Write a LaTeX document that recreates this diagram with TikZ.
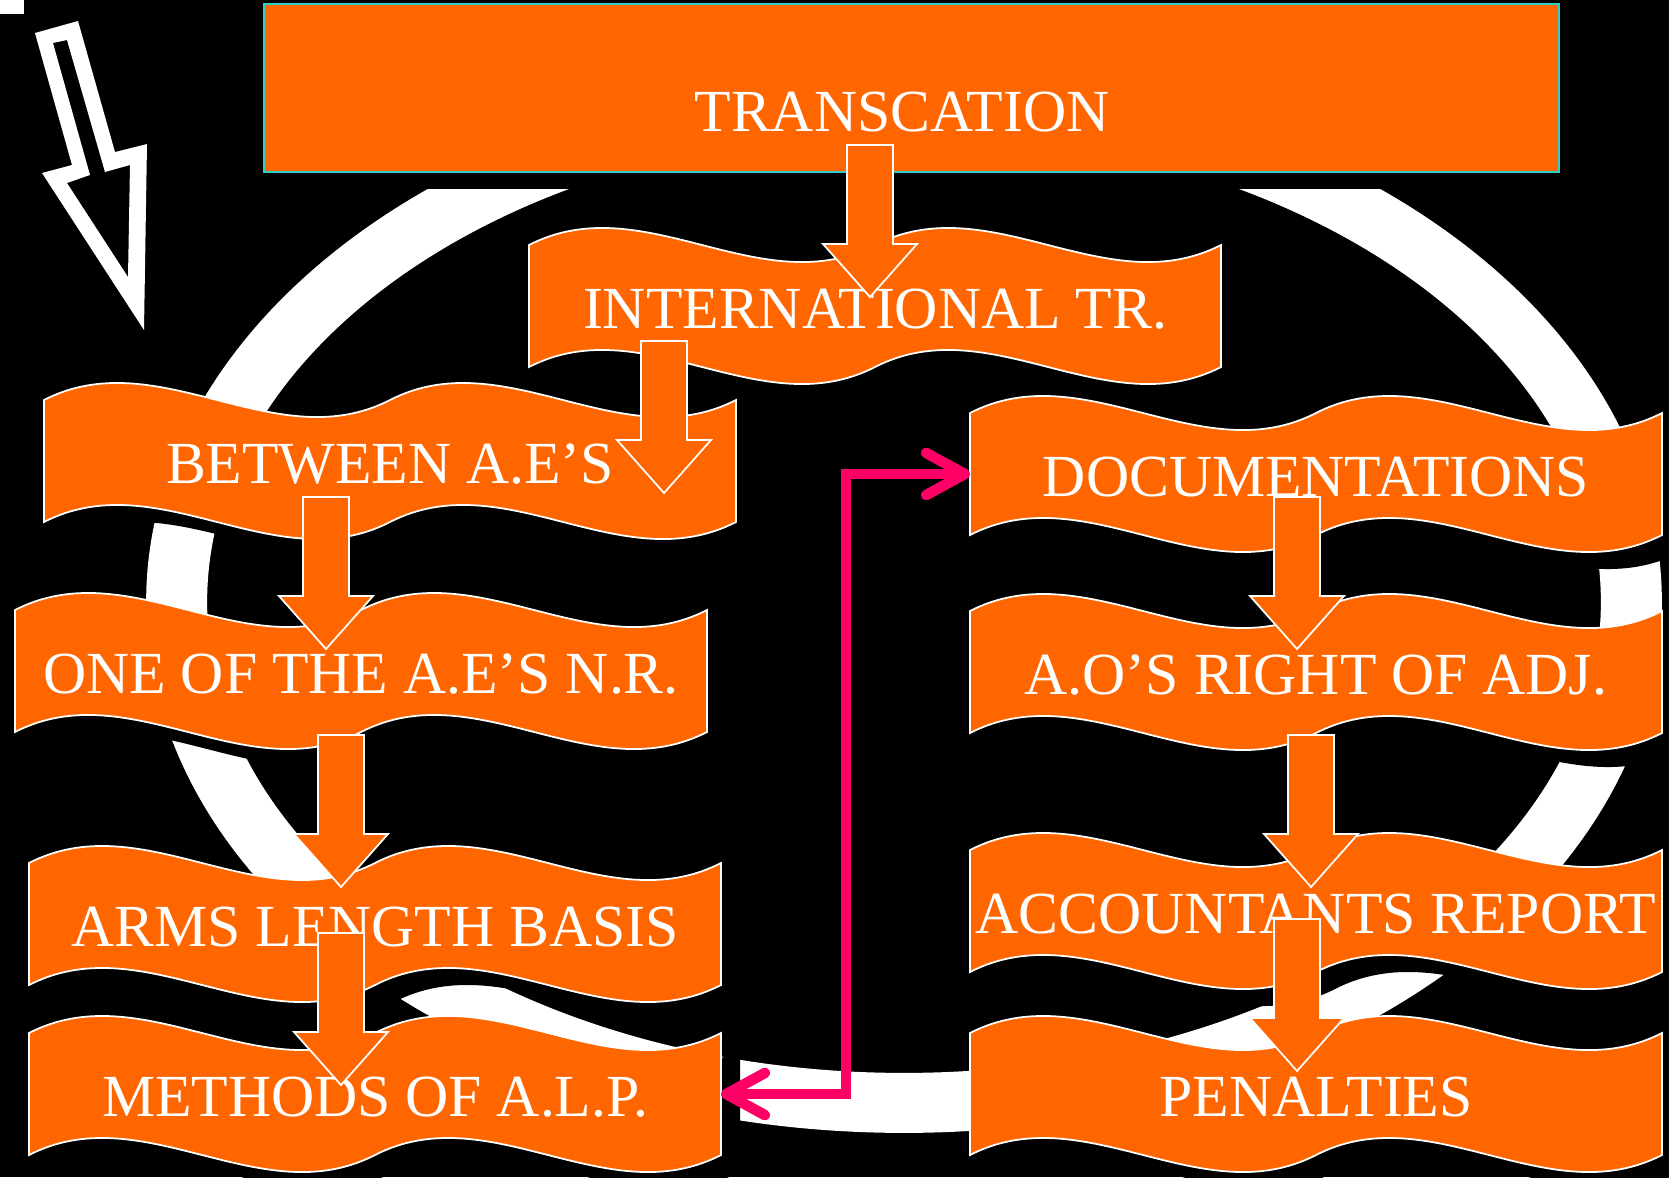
\documentclass[tikz,border=0pt]{standalone}
\usepackage{fontspec}
\setmainfont{Liberation Serif}
\usetikzlibrary{arrows.meta}

\definecolor{flag}{HTML}{FF6600}
\definecolor{rim}{HTML}{33CCCC}
\definecolor{hotpink}{HTML}{FF0066}

\newcommand{\wave}{(0,0) .. controls (115,-59) and (231,59) .. (346,0)
  .. controls (461,-59) and (577,59) .. (692,0) -- (692,122)
  .. controls (577,181) and (461,63) .. (346,122)
  .. controls (231,181) and (115,63) .. (0,122) -- cycle}

\newcommand{\banner}[4]{%
  \begin{scope}[shift={(#2,#3)}]
    \fill[black, shift={(19,17)}] \wave;
    \filldraw[flagbody] \wave;
    \node[flagtext] (#1) at (346,64) {#4};
    \coordinate (#1-w) at (0,61);
    \coordinate (#1-e) at (692,61);
  \end{scope}}

\newcommand{\blockarrow}[2]{%
  \filldraw[flagbody] (#1-23,#2) -- (#1+23,#2) -- (#1+23,#2+99) -- (#1+47,#2+99)
    -- (#1,#2+152) -- (#1-47,#2+99) -- (#1-23,#2+99) -- cycle;}

\begin{document}
\begin{tikzpicture}[x=0.02cm, y=-0.02cm,
  flagbody/.style={fill=flag, draw=white, line width=1pt},
  flagtext/.style={text=white, font=\fontsize{34}{37}\selectfont, inner sep=0pt, text height=22.5pt, text depth=0pt},
  link/.style={hotpink, line width=6pt, >={Straight Barb[length=22pt, width=24pt, round]}, <->}]
\useasboundingbox (0,0) rectangle (1669,1177);
\fill[black] (0,0) rectangle (1669,1177);
\fill[white] (0,0) rectangle (24,14);

\fill[white, even odd rule] (35,33) -- (78,21) -- (115,152) -- (147,144) -- (144,330) -- (42,173) -- (72,165) -- cycle
  (53,43) -- (67,40) -- (105,172) -- (130,165) -- (128,277) -- (67,183) -- (90,175) -- cycle;

\fill[white, even odd rule] (904,602) ellipse [x radius=15.16cm, y radius=10.62cm]
  (904,602) ellipse [x radius=13.94cm, y radius=9.42cm];

\fill[black] (283,21) rectangle (1578,189);
\filldraw[fill=flag, draw=rim, line width=1.2pt] (264,4) rectangle (1559,172);
\node[flagtext] (trans) at (902,112) {TRANSCATION};

\banner{inter}{529}{245}{INTERNATIONAL TR.}
\banner{aes}{44}{400}{BETWEEN A.E’S}
\banner{nr}{15}{610}{ONE OF THE A.E’S N.R.}
\banner{arms}{29}{863}{ARMS LENGTH BASIS}
\banner{alp}{29}{1033}{METHODS OF A.L.P.}
\banner{docu}{970}{413}{DOCUMENTATIONS}
\banner{adj}{970}{611}{A.O’S RIGHT OF ADJ.}
\banner{report}{970}{850}{ACCOUNTANTS REPORT}
\banner{penal}{970}{1033}{PENALTIES}

\blockarrow{870}{145}
\blockarrow{664}{341}
\blockarrow{326}{497}
\blockarrow{341}{735}
\blockarrow{341}{933}
\blockarrow{1297}{497}
\blockarrow{1311}{735}
\blockarrow{1297}{919}

\draw[link] (alp-e) -- ++(125,0) |- (docu-w);
\end{tikzpicture}
\end{document}
